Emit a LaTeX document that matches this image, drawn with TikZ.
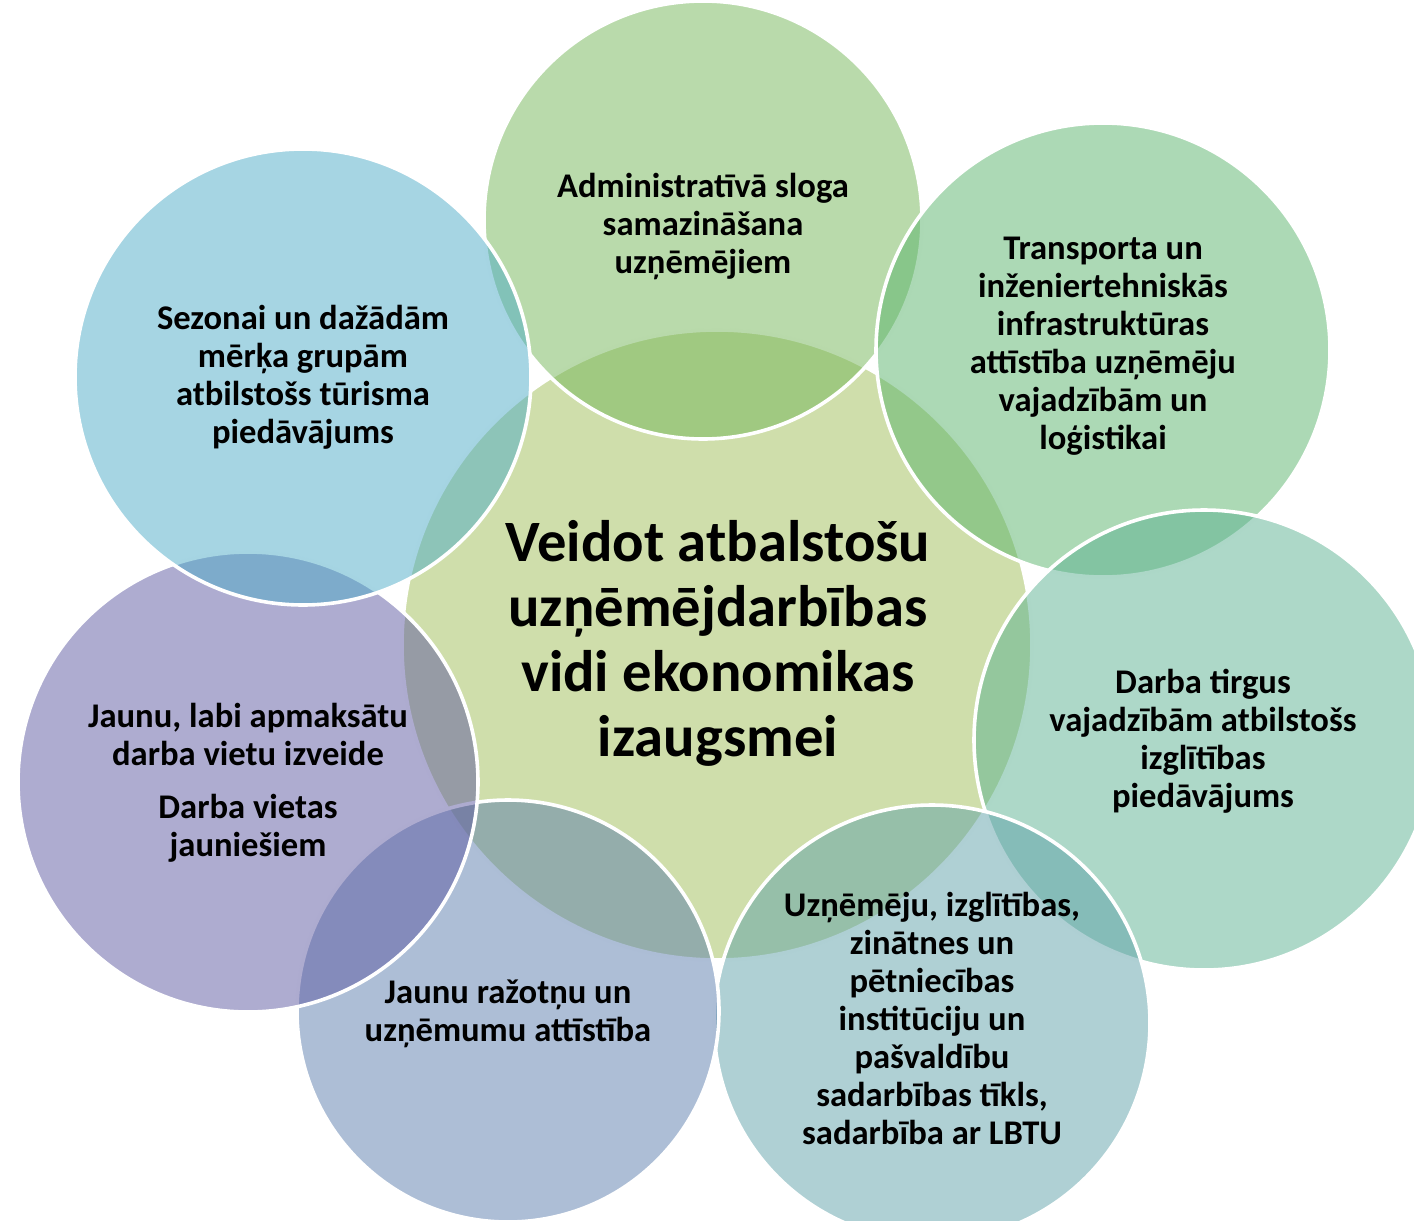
\documentclass[tikz,border=0pt]{standalone}
\usepackage{fontspec}
\setmainfont{Carlito}
\definecolor{cCenter}{RGB}{159,189,87}
\definecolor{cTop}{RGB}{115,181,87}
\definecolor{cTR}{RGB}{89,179,107}
\definecolor{cR}{RGB}{91,177,145}
\definecolor{cBR}{RGB}{95,161,169}
\definecolor{cB}{RGB}{91,125,173}
\definecolor{cL}{RGB}{93,89,161}
\definecolor{cTL}{RGB}{77,171,199}
\begin{document}
\begin{tikzpicture}[x=0.5pt,y=-0.5pt,
  bubble/.style={circle, draw=white, line width=1.8pt, fill opacity=0.5, draw opacity=1, inner sep=0pt, outer sep=0pt},
  lbl/.style={align=center, inner sep=0pt, text=black, font=\bfseries\fontsize{17.3}{19}\selectfont},
  biglbl/.style={align=center, inner sep=0pt, text=black, font=\bfseries\fontsize{29.3}{32.5}\selectfont}]
\useasboundingbox (0,0) rectangle (1414,1221);
\clip (0,0) rectangle (1414,1221);
% circles, in drawing order
\node[bubble, fill=cCenter, minimum size=315pt] (cc) at (717,645) {};
\node[bubble, fill=cTop, minimum size=219pt] (ctop) at (703,220) {};
\node[bubble, fill=cTR, minimum size=227pt] (ctr) at (1103,350) {};
\node[bubble, fill=cR, minimum size=230pt] (cr) at (1204,740) {};
\node[bubble, fill=cBR, minimum size=218pt] (cbr) at (932,1023) {};
\node[bubble, fill=cB, minimum size=211pt] (cb) at (508,1011) {};
\node[bubble, fill=cL, minimum size=230pt] (cl) at (248,782) {};
\node[bubble, fill=cTL, minimum size=228pt] (ctl) at (303,377) {};
% texts
\node[biglbl] (tc) at (718,643) {Veidot atbalstošu\\uzņēmējdarbības\\vidi ekonomikas\\izaugsmei};
\node[lbl] (ttop) at (703,227) {Administratīvā sloga\\samazināšana\\uzņēmējiem};
\node[lbl] (ttr) at (1103,346) {Transporta un\\inženiertehniskās\\infrastruktūras\\attīstība uzņēmēju\\vajadzībām un\\loģistikai};
\node[lbl] (tr) at (1203,741) {Darba tirgus\\vajadzībām atbilstošs\\izglītības\\piedāvājums};
\node[lbl] (tbr) at (932,1018) {Uzņēmēju, izglītības,\\zinātnes un\\pētniecības\\institūciju un\\pašvaldību\\sadarbības tīkls,\\sadarbība ar LBTU};
\node[lbl] (tb) at (508,1014) {Jaunu ražotņu un\\uzņēmumu attīstība};
\node[lbl] (tl) at (248,783) {Jaunu, labi apmaksātu\\darba vietu izveide\\[7.5pt]Darba vietas\\jauniešiem};
\node[lbl] (ttl) at (303,377) {Sezonai un dažādām\\mērķa grupām\\atbilstošs tūrisma\\piedāvājums};
\end{tikzpicture}
\end{document}
